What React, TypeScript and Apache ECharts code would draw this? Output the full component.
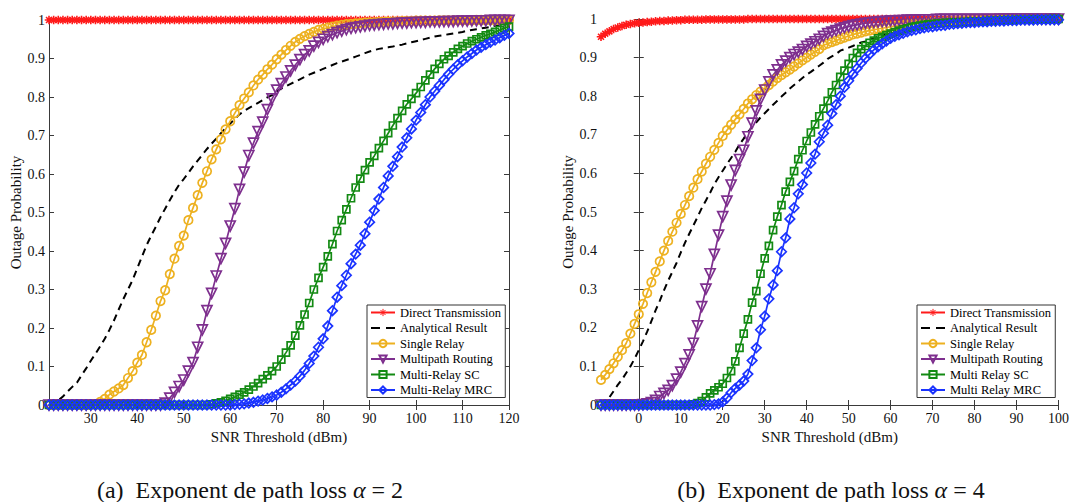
import React, { useEffect, useRef } from "react";
import * as echarts from "echarts";

// ---------- x grids (sampled every 1 dBm) ----------
const X_LEFT_START = 21;
const X_RIGHT_START = -9;

// ---------- (a) alpha = 2, x = 21..120 ----------
const directL = [
  1, 1, 1, 1, 1, 1, 1, 1, 1, 1,
  1, 1, 1, 1, 1, 1, 1, 1, 1, 1,
  1, 1, 1, 1, 1, 1, 1, 1, 1, 1,
  1, 1, 1, 1, 1, 1, 1, 1, 1, 1,
  1, 1, 1, 1, 1, 1, 1, 1, 1, 1,
  1, 1, 1, 1, 1, 1, 1, 1, 1, 1,
  1, 1, 1, 1, 1, 1, 1, 1, 1, 1,
  1, 1, 1, 1, 1, 1, 1, 1, 1, 1,
  1, 1, 1, 1, 1, 1, 1, 1, 1, 1,
  1, 1, 1, 1, 1, 1, 1, 1, 1, 1,
];
const analyticalL = [
  0, 0.005, 0.012, 0.022, 0.035, 0.047, 0.058, 0.077, 0.095, 0.115,
  0.133, 0.152, 0.172, 0.195, 0.22, 0.248, 0.275, 0.3, 0.325, 0.355,
  0.385, 0.415, 0.44, 0.463, 0.488, 0.51, 0.532, 0.553, 0.572, 0.587,
  0.603, 0.62, 0.635, 0.65, 0.665, 0.679, 0.692, 0.706, 0.719, 0.731,
  0.743, 0.755, 0.764, 0.771, 0.778, 0.785, 0.792, 0.799, 0.805, 0.814,
  0.822, 0.828, 0.834, 0.84, 0.846, 0.852, 0.858, 0.863, 0.868, 0.873,
  0.878, 0.883, 0.888, 0.892, 0.896, 0.9, 0.905, 0.909, 0.914, 0.918,
  0.922, 0.925, 0.927, 0.929, 0.931, 0.934, 0.936, 0.939, 0.942, 0.945,
  0.948, 0.951, 0.954, 0.957, 0.959, 0.961, 0.963, 0.965, 0.967, 0.969,
  0.972, 0.974, 0.976, 0.978, 0.98, 0.982, 0.985, 0.987, 0.989, 0.991,
];
const singleL = [
  0, 0, 0, 0, 0, 0, 0, 0, 0, 0.001,
  0.002, 0.008, 0.016, 0.027, 0.035, 0.043, 0.052, 0.07, 0.088, 0.11,
  0.13, 0.163, 0.195, 0.232, 0.27, 0.298, 0.34, 0.38, 0.413, 0.44,
  0.48, 0.512, 0.545, 0.577, 0.607, 0.638, 0.664, 0.69, 0.716, 0.737,
  0.758, 0.779, 0.796, 0.812, 0.83, 0.845, 0.858, 0.872, 0.884, 0.898,
  0.91, 0.922, 0.933, 0.943, 0.951, 0.958, 0.964, 0.969, 0.974, 0.977,
  0.98, 0.983, 0.985, 0.987, 0.989, 0.99, 0.991, 0.992, 0.993, 0.994,
  0.994, 0.995, 0.995, 0.996, 0.996, 0.996, 0.997, 0.997, 0.997, 0.998,
  0.998, 0.998, 0.998, 0.998, 0.999, 0.999, 0.999, 0.999, 0.999, 0.999,
  0.999, 0.999, 1, 1, 1, 1, 1, 1, 1, 1,
];
const multipathL = [
  0, 0, 0, 0, 0, 0, 0, 0, 0, 0,
  0, 0, 0, 0, 0, 0, 0, 0, 0, 0,
  0, 0, 0, 0, 0, 0.005, 0.018, 0.033, 0.048, 0.065,
  0.088, 0.11, 0.15, 0.195, 0.245, 0.29, 0.335, 0.38, 0.42, 0.465,
  0.51, 0.56, 0.605, 0.648, 0.68, 0.71, 0.735, 0.767, 0.795, 0.818,
  0.835, 0.852, 0.868, 0.883, 0.897, 0.91, 0.92, 0.932, 0.942, 0.95,
  0.957, 0.962, 0.967, 0.971, 0.975, 0.978, 0.98, 0.982, 0.984, 0.986,
  0.987, 0.988, 0.989, 0.99, 0.99, 0.991, 0.992, 0.992, 0.993, 0.993,
  0.994, 0.994, 0.995, 0.995, 0.995, 0.996, 0.996, 0.996, 0.997, 0.997,
  0.997, 0.998, 0.998, 0.998, 0.998, 0.999, 0.999, 0.999, 0.999, 0.999,
];
const scL = [
  0, 0, 0, 0, 0, 0, 0, 0, 0, 0,
  0, 0, 0, 0, 0, 0, 0, 0, 0, 0,
  0, 0, 0, 0, 0, 0, 0, 0, 0, 0,
  0, 0, 0, 0, 0, 0.002, 0.004, 0.007, 0.011, 0.016,
  0.021, 0.027, 0.033, 0.04, 0.048, 0.057, 0.067, 0.077, 0.088, 0.1,
  0.118, 0.136, 0.155, 0.18, 0.207, 0.235, 0.265, 0.3, 0.33, 0.358,
  0.386, 0.418, 0.452, 0.48, 0.508, 0.537, 0.565, 0.588, 0.61, 0.63,
  0.647, 0.667, 0.686, 0.706, 0.726, 0.745, 0.764, 0.781, 0.795, 0.81,
  0.826, 0.843, 0.858, 0.873, 0.886, 0.898, 0.907, 0.916, 0.925, 0.932,
  0.939, 0.945, 0.95, 0.955, 0.96, 0.964, 0.969, 0.974, 0.979, 0.983,
];
const mrcL = [
  0, 0, 0, 0, 0, 0, 0, 0, 0, 0,
  0, 0, 0, 0, 0, 0, 0, 0, 0, 0,
  0, 0, 0, 0, 0, 0, 0, 0, 0, 0,
  0, 0, 0, 0, 0, 0, 0, 0, 0, 0,
  0.001, 0.002, 0.003, 0.005, 0.007, 0.01, 0.013, 0.017, 0.021, 0.026,
  0.033, 0.042, 0.052, 0.062, 0.075, 0.09, 0.108, 0.127, 0.15, 0.172,
  0.205, 0.245, 0.28, 0.31, 0.337, 0.367, 0.392, 0.415, 0.445, 0.475,
  0.505, 0.535, 0.565, 0.595, 0.62, 0.645, 0.67, 0.694, 0.717, 0.74,
  0.76, 0.78, 0.8, 0.815, 0.83, 0.845, 0.859, 0.872, 0.884, 0.894,
  0.904, 0.913, 0.922, 0.929, 0.936, 0.942, 0.948, 0.954, 0.96, 0.965,
];

// ---------- (b) alpha = 4, x = -9..100 ----------
const directR = [
  0.954, 0.962, 0.968, 0.974, 0.978, 0.982, 0.985, 0.987, 0.989, 0.99,
  0.991, 0.992, 0.993, 0.994, 0.995, 0.995, 0.996, 0.996, 0.997, 0.997,
  0.998, 0.998, 0.998, 0.998, 0.998, 0.999, 0.999, 0.999, 0.999, 0.999,
  0.999, 0.999, 0.999, 0.999, 0.999, 1, 1, 1, 1, 1,
  1, 1, 1, 1, 1, 1, 1, 1, 1, 1,
  1, 1, 1, 1, 1, 1, 1, 1, 1, 1,
  1, 1, 1, 1, 1, 1, 1, 1, 1, 1,
  1, 1, 1, 1, 1, 1, 1, 1, 1, 1,
  1, 1, 1, 1, 1, 1, 1, 1, 1, 1,
  1, 1, 1, 1, 1, 1, 1, 1, 1, 1,
  1, 1, 1, 1, 1, 1, 1, 1, 1, 1,
];
const analyticalR = [
  0, 0.006, 0.02, 0.036, 0.052, 0.066, 0.083, 0.1, 0.12, 0.142,
  0.165, 0.19, 0.217, 0.245, 0.27, 0.297, 0.322, 0.345, 0.368, 0.395,
  0.42, 0.443, 0.465, 0.487, 0.51, 0.53, 0.55, 0.572, 0.59, 0.607,
  0.624, 0.64, 0.656, 0.675, 0.69, 0.707, 0.72, 0.732, 0.745, 0.756,
  0.767, 0.778, 0.788, 0.799, 0.809, 0.82, 0.829, 0.838, 0.847, 0.856,
  0.863, 0.871, 0.879, 0.887, 0.897, 0.903, 0.909, 0.918, 0.922, 0.926,
  0.93, 0.935, 0.939, 0.942, 0.946, 0.95, 0.954, 0.957, 0.96, 0.963,
  0.966, 0.969, 0.972, 0.975, 0.977, 0.979, 0.981, 0.983, 0.985, 0.987,
  0.988, 0.989, 0.99, 0.991, 0.992, 0.993, 0.994, 0.994, 0.995, 0.995,
  0.996, 0.996, 0.997, 0.997, 0.997, 0.998, 0.998, 0.998, 0.998, 0.999,
  0.999, 0.999, 0.999, 0.999, 0.999, 0.999, 1, 1, 1, 1,
];
const singleR = [
  0.065, 0.078, 0.093, 0.108, 0.125, 0.142, 0.16, 0.185, 0.21, 0.235,
  0.262, 0.29, 0.318, 0.345, 0.372, 0.4, 0.425, 0.449, 0.472, 0.495,
  0.518, 0.541, 0.563, 0.585, 0.605, 0.625, 0.643, 0.661, 0.679, 0.697,
  0.712, 0.726, 0.74, 0.753, 0.767, 0.781, 0.792, 0.803, 0.812, 0.82,
  0.829, 0.838, 0.847, 0.855, 0.862, 0.869, 0.877, 0.885, 0.893, 0.9,
  0.908, 0.915, 0.922, 0.932, 0.936, 0.94, 0.944, 0.948, 0.952, 0.956,
  0.96, 0.962, 0.965, 0.968, 0.97, 0.972, 0.974, 0.976, 0.978, 0.98,
  0.982, 0.983, 0.985, 0.986, 0.987, 0.988, 0.989, 0.99, 0.991, 0.992,
  0.993, 0.993, 0.994, 0.994, 0.995, 0.995, 0.996, 0.996, 0.997, 0.997,
  0.997, 0.998, 0.998, 0.998, 0.998, 0.999, 0.999, 0.999, 0.999, 0.999,
  0.999, 1, 1, 1, 1, 1, 1, 1, 1, 1,
];
const multipathR = [
  0, 0, 0, 0, 0, 0, 0, 0, 0, 0,
  0.001, 0.003, 0.006, 0.012, 0.022, 0.03, 0.038, 0.05, 0.067, 0.085,
  0.107, 0.13, 0.16, 0.205, 0.255, 0.3, 0.34, 0.39, 0.44, 0.488,
  0.528, 0.57, 0.608, 0.636, 0.66, 0.695, 0.73, 0.762, 0.792, 0.816,
  0.837, 0.855, 0.868, 0.881, 0.891, 0.9, 0.908, 0.914, 0.921, 0.929,
  0.935, 0.941, 0.947, 0.955, 0.962, 0.966, 0.97, 0.974, 0.977, 0.98,
  0.983, 0.985, 0.987, 0.989, 0.99, 0.991, 0.992, 0.993, 0.994, 0.995,
  0.995, 0.996, 0.996, 0.997, 0.997, 0.997, 0.998, 0.998, 0.998, 0.998,
  0.999, 0.999, 0.999, 0.999, 0.999, 0.999, 0.999, 0.999, 0.999, 0.999,
  0.999, 0.999, 0.999, 0.999, 0.999, 1, 1, 1, 1, 1,
  1, 1, 1, 1, 1, 1, 1, 1, 1, 1,
];
const scR = [
  0, 0, 0, 0, 0, 0, 0, 0, 0, 0,
  0, 0, 0, 0, 0, 0, 0, 0, 0, 0,
  0, 0, 0.002, 0.005, 0.01, 0.02, 0.03, 0.038, 0.046, 0.055,
  0.07, 0.088, 0.113, 0.148, 0.185, 0.222, 0.265, 0.295, 0.34, 0.38,
  0.412, 0.453, 0.488, 0.518, 0.553, 0.578, 0.606, 0.637, 0.66, 0.684,
  0.706, 0.727, 0.748, 0.768, 0.788, 0.81, 0.829, 0.85, 0.866, 0.884,
  0.899, 0.912, 0.922, 0.93, 0.938, 0.944, 0.95, 0.954, 0.958, 0.962,
  0.966, 0.97, 0.973, 0.976, 0.979, 0.981, 0.983, 0.985, 0.986, 0.987,
  0.988, 0.989, 0.99, 0.99, 0.991, 0.991, 0.992, 0.992, 0.993, 0.993,
  0.994, 0.994, 0.995, 0.995, 0.996, 0.996, 0.997, 0.997, 0.997, 0.998,
  0.998, 0.998, 0.998, 0.999, 0.999, 0.999, 0.999, 1, 1, 1,
];
const mrcR = [
  0, 0, 0, 0, 0, 0, 0, 0, 0, 0,
  0, 0, 0, 0, 0, 0, 0, 0, 0, 0,
  0, 0, 0, 0, 0, 0, 0, 0.001, 0.003, 0.008,
  0.018, 0.032, 0.043, 0.052, 0.062, 0.08, 0.115, 0.148, 0.195, 0.23,
  0.275, 0.311, 0.348, 0.397, 0.433, 0.482, 0.511, 0.547, 0.571, 0.601,
  0.627, 0.65, 0.682, 0.704, 0.725, 0.755, 0.778, 0.8, 0.823, 0.84,
  0.857, 0.872, 0.886, 0.898, 0.909, 0.92, 0.928, 0.936, 0.943, 0.95,
  0.955, 0.959, 0.963, 0.967, 0.97, 0.972, 0.975, 0.977, 0.979, 0.98,
  0.982, 0.983, 0.984, 0.986, 0.987, 0.988, 0.989, 0.99, 0.991, 0.991,
  0.992, 0.993, 0.993, 0.994, 0.994, 0.995, 0.995, 0.996, 0.996, 0.996,
  0.997, 0.997, 0.997, 0.997, 0.998, 0.998, 0.998, 0.998, 0.998, 0.998,
];

const xTicksL = [30, 40, 50, 60, 70, 80, 90, 100, 110, 120];
const xTicksR = [0, 10, 20, 30, 40, 50, 60, 70, 80, 90, 100];

const namesL = ["Direct Transmission", "Analytical Result", "Single Relay", "Multipath Routing", "Multi-Relay SC", "Multi-Relay MRC"];
const namesR = ["Direct Transmission", "Analytical Result", "Single Relay", "Multipath Routing", "Multi Relay SC", "Multi Relay MRC"];

const captionA = ["(a)", "Exponent de path loss ", "α", " = 2"];
const captionB = ["(b)", "Exponent de path loss ", "α", " = 4"];

const FONT = "Liberation Serif";
const AXIS = "#3a3a3a";
const C_RED = "#ff1a1a";
const C_BLACK = "#000000";
const C_ORANGE = "#edb120";
const C_PURPLE = "#7e2f8e";
const C_GREEN = "#138a13";
const C_BLUE = "#1a33ff";

const SYM_STAR = "path://M0,5L10,5M5,0L5,10M1.5,1.5L8.5,8.5M1.5,8.5L8.5,1.5";
const SYM_TRI_DOWN = "path://M0,0L10,0L5,9Z";
const ICON_DASH = "path://M0,0H9V2H0Z M15,0H24V2H15Z";

function pairs(start: number, ys: number[]) {
  return ys.map((y, i) => [start + i, y]);
}

function buildSeries(gi: number, start: number, names: string[], data: number[][]) {
  const base = { type: "line", xAxisIndex: gi * 2, yAxisIndex: gi * 2, z: 2 };
  return [
    {
      ...base, name: names[0], data: pairs(start, data[0]),
      symbol: SYM_STAR, symbolSize: 8.5,
      lineStyle: { color: C_RED, width: 2 },
      itemStyle: { color: C_RED, borderColor: C_RED, borderWidth: 1.6 },
    },
    {
      ...base, name: names[1], data: pairs(start, data[1]),
      symbol: "none", showSymbol: false,
      lineStyle: { color: C_BLACK, width: 2, type: [7, 5] },
      itemStyle: { color: C_BLACK },
    },
    {
      ...base, name: names[2], data: pairs(start, data[2]),
      symbol: "circle", symbolSize: 8.5,
      lineStyle: { color: C_ORANGE, width: 1.7 },
      itemStyle: { color: "rgba(0,0,0,0)", borderColor: C_ORANGE, borderWidth: 1.7 },
    },
    {
      ...base, name: names[3], data: pairs(start, data[3]),
      symbol: SYM_TRI_DOWN, symbolSize: 10,
      lineStyle: { color: C_PURPLE, width: 1.7 },
      itemStyle: { color: "rgba(0,0,0,0)", borderColor: C_PURPLE, borderWidth: 1.7 },
    },
    {
      ...base, name: names[4], data: pairs(start, data[4]),
      symbol: "rect", symbolSize: 7,
      lineStyle: { color: C_GREEN, width: 1.7 },
      itemStyle: { color: "rgba(0,0,0,0)", borderColor: C_GREEN, borderWidth: 1.7 },
    },
    {
      ...base, name: names[5], data: pairs(start, data[5]),
      symbol: "diamond", symbolSize: 9.5,
      lineStyle: { color: C_BLUE, width: 1.7 },
      itemStyle: { color: "rgba(0,0,0,0)", borderColor: C_BLUE, borderWidth: 1.7 },
    },
  ];
}

function xAxes(gi: number, min: number, max: number, ticks: number[]) {
  const line = { show: true, lineStyle: { color: AXIS, width: 1 } };
  return [
    {
      type: "value", gridIndex: gi, min, max, position: "bottom",
      axisLine: line,
      axisTick: { show: true, inside: true, length: 5, customValues: ticks, lineStyle: { color: AXIS } },
      axisLabel: { show: true, customValues: ticks, fontFamily: FONT, fontSize: 14, color: "#111", margin: 6 },
      splitLine: { show: false },
      name: "SNR Threshold (dBm)", nameLocation: "middle", nameGap: 21,
      nameTextStyle: { fontFamily: FONT, fontSize: 15, color: "#111" },
    },
    {
      type: "value", gridIndex: gi, min, max, position: "top",
      axisLine: line,
      axisTick: { show: true, inside: true, length: 5, customValues: ticks, lineStyle: { color: AXIS } },
      axisLabel: { show: false },
      splitLine: { show: false },
    },
  ];
}

function yAxes(gi: number) {
  const line = { show: true, lineStyle: { color: AXIS, width: 1 } };
  return [
    {
      type: "value", gridIndex: gi, min: 0, max: 1, interval: 0.1, position: "left",
      axisLine: line,
      axisTick: { show: true, inside: true, length: 5, lineStyle: { color: AXIS } },
      axisLabel: { fontFamily: FONT, fontSize: 14, color: "#111", margin: 4 },
      splitLine: { show: false },
      name: "Outage Probability", nameLocation: "middle", nameGap: 23,
      nameTextStyle: { fontFamily: FONT, fontSize: 15, color: "#111" },
    },
    {
      type: "value", gridIndex: gi, min: 0, max: 1, interval: 0.1, position: "right",
      axisLine: line,
      axisTick: { show: true, inside: true, length: 5, lineStyle: { color: AXIS } },
      axisLabel: { show: false },
      splitLine: { show: false },
    },
  ];
}

function legendItem(n: string) {
  if (n === "Analytical Result") return { name: n, icon: ICON_DASH };
  if (n === "Direct Transmission") return { name: n, itemStyle: { borderWidth: 1 } };
  return { name: n };
}

function legend(names: string[], left: number, top: number) {
  return {
    data: names.map(legendItem),
    orient: "vertical", left, top,
    backgroundColor: "#ffffff", borderColor: "#333", borderWidth: 1, borderRadius: 0,
    padding: [1, 4, 1, 3], itemWidth: 24, itemHeight: 9, itemGap: 2.5,
    selectedMode: false,
    textStyle: { fontFamily: FONT, fontSize: 12.5, color: "#000" },
  };
}

function caption(parts: string[], x: number) {
  const fs = 24;
  return {
    type: "text", x, y: 490,
    style: {
      text: `${parts[0]}  ${parts[1]}{i|${parts[2]}}${parts[3]}`,
      fontFamily: FONT, fontSize: fs, fill: "#111",
      align: "center", verticalAlign: "middle",
      rich: { i: { fontFamily: FONT, fontSize: fs, fontStyle: "italic", fill: "#111" } },
    },
  };
}

export default function App() {
  const ref = useRef<HTMLDivElement>(null);
  useEffect(() => {
    if (!ref.current) return;
    const chart = echarts.init(ref.current, undefined, { renderer: "svg" });
    const option = {
      animation: false,
      backgroundColor: "#ffffff",
      grid: [
        { left: 49, top: 20, width: 460, height: 385 },
        { left: 601, top: 19, width: 461, height: 386 },
      ],
      xAxis: [...xAxes(0, 21, 120, xTicksL), ...xAxes(1, -9, 100, xTicksR)],
      yAxis: [...yAxes(0), ...yAxes(1)],
      legend: [legend(namesL, 367, 305), legend(namesR, 917, 305)],
      series: [
        ...buildSeries(0, X_LEFT_START, namesL, [directL, analyticalL, singleL, multipathL, scL, mrcL]),
        ...buildSeries(1, X_RIGHT_START, namesR, [directR, analyticalR, singleR, multipathR, scR, mrcR]),
      ],
      graphic: [caption(captionA, 250), caption(captionB, 831)],
    };
    chart.setOption(option as any);
    return () => chart.dispose();
  }, []);
  return (
    <div
      ref={ref}
      style={{ position: "absolute", left: 0, top: 0, width: 1072, height: 502, background: "#fff" }}
    />
  );
}
